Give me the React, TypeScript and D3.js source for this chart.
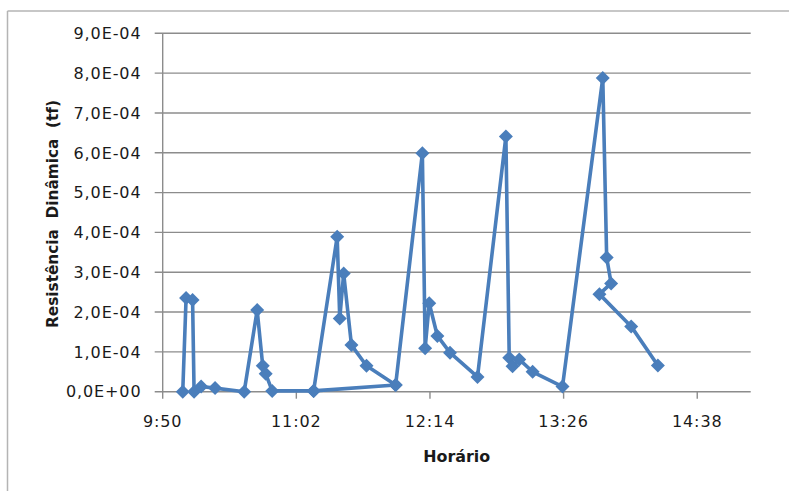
import React from "react";
import * as d3 from "d3";

// Data in plotting (series) order; times as clock time, values in tf
const times: string[] = [
  "10:01:12", "10:03:00", "10:06:30", "10:07:18", "10:11:06", "10:18:36", "10:34:18",
  "10:41:18", "10:44:18", "10:45:54", "10:49:24", "11:11:42", "11:55:54", "11:11:42",
  "11:24:24", "11:25:48", "11:27:54", "11:32:06", "11:40:12", "11:55:54",
  "12:10:18", "12:11:48", "12:14:00", "12:18:24", "12:25:12", "12:40:00",
  "12:55:18", "12:57:06", "12:58:54", "13:02:30", "13:09:42", "13:25:48",
  "13:47:30", "13:49:36", "13:52:00", "13:45:42", "14:02:48", "14:17:12",
];
const values: number[] = [
  0, 2.35e-4, 2.3e-4, 0, 0.13e-4, 0.09e-4, 0,
  2.05e-4, 0.65e-4, 0.45e-4, 0.02e-4, 0.02e-4, 0.17e-4, 0.02e-4,
  3.89e-4, 1.84e-4, 2.97e-4, 1.17e-4, 0.65e-4, 0.17e-4,
  5.99e-4, 1.09e-4, 2.22e-4, 1.4e-4, 0.98e-4, 0.37e-4,
  6.41e-4, 0.85e-4, 0.64e-4, 0.81e-4, 0.5e-4, 0.13e-4,
  7.88e-4, 3.37e-4, 2.72e-4, 2.45e-4, 1.64e-4, 0.66e-4,
];

const xTickValues: number[] = [0.41, 0.46, 0.51, 0.56, 0.61];
const xTickLabels: string[] = ["9:50", "11:02", "12:14", "13:26", "14:38"];
const yTickValues: number[] = [0, 1e-4, 2e-4, 3e-4, 4e-4, 5e-4, 6e-4, 7e-4, 8e-4, 9e-4];
const yTickLabels: string[] = [
  "0,0E+00", "1,0E-04", "2,0E-04", "3,0E-04", "4,0E-04",
  "5,0E-04", "6,0E-04", "7,0E-04", "8,0E-04", "9,0E-04",
];
const xTitle = "Horário";
const yTitle = "Resistência  Dinâmica  (tf)";

const W = 789;
const H = 491;
const plot = { left: 162.7, right: 750.7, top: 33.3, bottom: 391.7 };

function toDayFraction(t: string): number {
  const [h, m, s] = t.split(":").map(Number);
  return (h * 3600 + m * 60 + (s || 0)) / 86400;
}

export default function App() {
  const x = d3.scaleLinear().domain([0.41, 0.63]).range([plot.left, plot.right]);
  const y = d3.scaleLinear().domain([0, 9e-4]).range([plot.bottom, plot.top]);

  const pts = times.map((t, i) => [x(toDayFraction(t)), y(values[i])] as [number, number]);
  const line = d3.line<[number, number]>().x((d) => d[0]).y((d) => d[1]);
  const blue = "#4a7ebb";
  const grid = "#8c8c8c";
  const font = "'DejaVu Sans', sans-serif";
  const md = 7;
  const diamond = `M0,${-md}L${md},0L0,${md}L${-md},0Z`;

  return (
    <svg
      width={W}
      height={H}
      style={{ position: "absolute", left: 0, top: 0, background: "#fff" }}
    >
      <rect x={0} y={0} width={W} height={H} fill="#fff" />
      {/* outer chart frame */}
      <line x1={7.5} y1={11} x2={W} y2={11} stroke="#b4b4b4" strokeWidth={1.5} />
      <line x1={7.5} y1={11} x2={7.5} y2={H} stroke="#b4b4b4" strokeWidth={1.5} />

      {/* gridlines + y ticks */}
      {yTickValues.map((v, i) => (
        <g key={"y" + i}>
          <line
            x1={plot.left - 8}
            x2={plot.right}
            y1={y(v)}
            y2={y(v)}
            stroke={grid}
            strokeWidth={1.4}
          />
          <text
            x={141.5}
            y={y(v)}
            dy="0.36em"
            textAnchor="end"
            fontFamily={font}
            fontSize={16}
            letterSpacing={0.9}
            fill="#1a1a1a"
          >
            {yTickLabels[i]}
          </text>
        </g>
      ))}
      {/* y axis */}
      <line x1={plot.left} x2={plot.left} y1={plot.top} y2={plot.bottom} stroke={grid} strokeWidth={1.4} />
      {/* x ticks */}
      {xTickValues.map((v, i) => (
        <g key={"x" + i}>
          <line x1={x(v)} x2={x(v)} y1={plot.bottom} y2={plot.bottom + 7} stroke={grid} strokeWidth={1.4} />
          <text
            x={x(v)}
            y={427}
            textAnchor="middle"
            fontFamily={font}
            fontSize={16}
            letterSpacing={0.9}
            fill="#1a1a1a"
          >
            {xTickLabels[i]}
          </text>
        </g>
      ))}

      {/* series */}
      <path d={line(pts) || ""} fill="none" stroke={blue} strokeWidth={3.6} strokeLinejoin="round" />
      {pts.map((p, i) => (
        <path key={"m" + i} d={diamond} transform={`translate(${p[0]},${p[1]})`} fill={blue} />
      ))}

      {/* axis titles */}
      <text
        x={(plot.left + plot.right) / 2}
        y={461.5}
        textAnchor="middle"
        fontFamily={font}
        fontWeight="bold"
        fontSize={16}
        textLength={67}
        lengthAdjust="spacingAndGlyphs"
        fill="#1a1a1a"
      >
        {xTitle}
      </text>
      <text
        transform={`translate(58,214) rotate(-90)`}
        textAnchor="middle"
        fontFamily={font}
        fontWeight="bold"
        fontSize={15}
        textLength={228}
        lengthAdjust="spacingAndGlyphs"
        fill="#1a1a1a"
        style={{ whiteSpace: "pre" }}
      >
        {yTitle}
      </text>
    </svg>
  );
}
